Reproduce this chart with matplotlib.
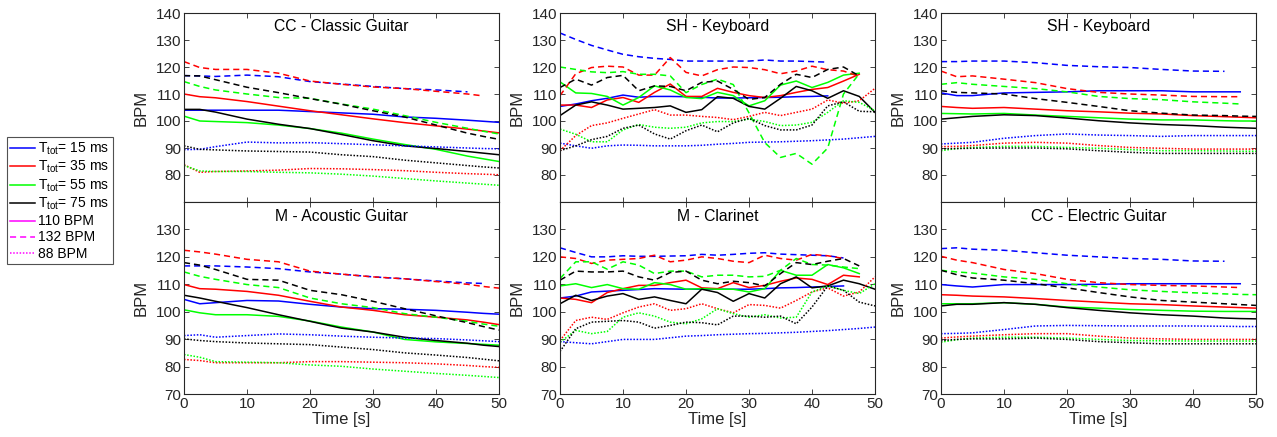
import matplotlib
matplotlib.use("Agg")
import matplotlib.pyplot as plt
from matplotlib.lines import Line2D

plt.rcParams["font.family"] = ["Liberation Sans", "DejaVu Sans"]
plt.rcParams["mathtext.fontset"] = "custom"
plt.rcParams["mathtext.rm"] = "Liberation Sans"
plt.rcParams["mathtext.it"] = "Liberation Sans:italic"

# ── time grids (s) ──────────────────────────────────────────────────────────
t_smooth = [0, 2.5, 5, 10, 15, 20, 25, 30, 35, 40, 45, 47.5, 50]
t_jagged = [0, 2.5, 5, 7.5, 10, 12.5, 15, 17.5, 20, 22.5, 25, 27.5, 30,
            32.5, 35, 37.5, 40, 42.5, 45, 47.5, 50]

# ── data: BPM per (T_tot ms, target BPM) ────────────────────────────────────
classic_guitar = {
    (15, 110): [104, 104, 104, 104, 104, 103.5, 103, 102.5, 101.5, 101, 100.3, 99.9, 99.5],
    (35, 110): [110, 109, 108.6, 107.2, 105.5, 103.8, 102.3, 100.8, 99.4, 98.2, 97, 96.3, 95.6],
    (55, 110): [101.8, 100, 99.8, 99.4, 98.5, 97.2, 95.5, 93.3, 91.3, 89.5, 87, 86, 85],
    (75, 110): [104.3, 104.3, 103.3, 100.7, 98.8, 97.2, 95, 92.7, 90.8, 89.8, 88.7, 88.1, 87.5],
    (15, 132): [116.8, 116.7, 116.5, 117, 116.4, 114.6, 113.7, 112.8, 112, 111.5, 110.8],
    (35, 132): [122, 119.8, 119.1, 119.1, 117.7, 114.8, 113.6, 112.6, 112, 111, 110, 109.3],
    (55, 132): [114.6, 112.8, 111.5, 110, 108.7, 108.4, 106.3, 104.4, 102, 99.5, 97.3, 96.2, 95.2],
    (75, 132): [116.8, 116.7, 115.3, 112.5, 110.5, 108.3, 106.2, 103.8, 101.5, 98.5, 95.5, 94.3, 93.2],
    (15, 88): [89.4, 89.5, 90.5, 92.2, 91.9, 92, 91.6, 91.2, 90.8, 90.4, 90, 89.8, 89.7],
    (35, 88): [83.8, 81, 81.3, 81.5, 81.8, 82.4, 82.3, 82, 81.6, 81, 80.5, 80.3, 80.1],
    (55, 88): [83.5, 81.5, 81.3, 81.3, 81, 80.8, 80.3, 79.6, 78.7, 77.8, 77, 76.6, 76.2],
    (75, 88): [90.8, 89.5, 89.3, 88.9, 88.7, 88.5, 87.5, 86.8, 85.5, 84.5, 83.5, 83, 82.6],
}

acoustic_guitar = {
    (15, 110): [104.5, 102.9, 103.3, 104.1, 103.9, 102.7, 101.7, 101.1, 100.9, 100.5, 99.8, 99.4, 99.1],
    (35, 110): [109.9, 108.4, 108.2, 107.4, 106, 103.8, 101.7, 100.5, 98.9, 98, 97, 96.2, 95.3],
    (55, 110): [100.7, 99.6, 98.9, 98.9, 98.3, 96.6, 94.4, 92.6, 89.9, 89, 88.4, 88.1, 87.8],
    (75, 110): [106, 105, 103.8, 101.5, 98.9, 96.5, 94, 92.6, 90.7, 89.5, 88.5, 87.8, 87.3],
    (15, 132): [116.7, 116.7, 116.7, 116.3, 115.7, 114.5, 113.7, 112.7, 112, 111.2, 110.5, 110.3],
    (35, 132): [122.4, 121.8, 121, 119.1, 118.2, 114.8, 113.7, 112.7, 112, 111, 110, 109.2, 108.6],
    (55, 132): [114.5, 112.9, 111.8, 109.9, 108.8, 105, 102.9, 101.5, 99.3, 98, 96.5, 95.5, 94.7],
    (75, 132): [117.9, 117, 115.4, 111.8, 111.5, 107.8, 106.2, 103.8, 101.1, 98.5, 96, 94.6, 93.3],
    (15, 88): [91.3, 91.6, 90.7, 91.3, 91.9, 91.6, 91.1, 90.7, 90.4, 90.2, 89.7, 89.4, 89.1],
    (35, 88): [82.6, 82.2, 81.4, 81.4, 81.4, 81.8, 81.8, 81.6, 81.4, 81, 80.4, 80, 79.7],
    (55, 88): [84.4, 83.4, 81.8, 81.6, 81.4, 80.6, 80.1, 79.1, 78.3, 77.5, 76.8, 76.4, 76],
    (75, 88): [90.1, 89.5, 89.1, 88.6, 88.3, 88, 87.1, 86.2, 85, 84.2, 83.3, 82.7, 82.1],
}

keyboard_a = {
    (15, 110): [105.4, 106.3, 107.5, 108.4, 109.6, 108.8, 109.1, 109.1, 109, 108.8, 108.5, 108.5,
                108.6, 108.7, 108.8, 109, 109.1, 109.3],
    (35, 110): [105.9, 105.9, 105, 107.8, 108.7, 106.9, 110.6, 113.7, 109.1, 109.1, 112.1, 110.6,
                109.4, 108.7, 109.4, 110.6, 111.7, 112.4, 114.8, 117.3],
    (55, 110): [114.5, 110.4, 110.2, 109.1, 105.9, 108.7, 113, 111.5, 108.7, 108.3, 110.6, 109.4,
                105.6, 107.5, 113.3, 114.8, 112.4, 114.3, 117, 117.7],
    (75, 110): [102, 105.9, 107.1, 105.9, 104.4, 104.7, 105, 105.6, 103.2, 104.2, 109, 108.4,
                105.4, 104.4, 108.4, 112.8, 111.2, 108.4, 111.2, 109.1, 103.2],
    (15, 132): [132.6, 130.2, 128, 126.3, 124.7, 123.8, 123.2, 122.8, 122.2, 122.2, 122.2, 122.2,
                122.2, 122.6, 122.2, 122.2, 122, 121.8],
    (35, 132): [109.4, 117.5, 119.8, 120.3, 120, 117, 117, 123.5, 118, 116.7, 119, 120,
                119.8, 119, 117.5, 118.5, 120.3, 119, 118.5, 116.5],
    (55, 132): [120, 119.1, 118.2, 117.9, 118.3, 117.3, 117.3, 116.7, 110.5, 113.5, 115.5, 113.5,
                103, 92, 86.5, 88, 84, 90, 110, 117.5],
    (75, 132): [112.4, 115.5, 113.3, 116.1, 116.9, 111.2, 113, 112.8, 111.2, 114.3, 114.8, 111.7,
                108, 108.7, 113.6, 117.3, 116.1, 119.1, 120, 116.7],
    (15, 88): [91.8, 90.8, 89.9, 90.8, 91.1, 91, 90.8, 90.8, 90.8, 91, 91.4, 91.7,
               92.1, 92.2, 92.3, 92.5, 92.7, 93, 93.3, 93.8, 94.3],
    (35, 88): [89, 94.6, 98.3, 99.3, 101, 102.6, 104.2, 102.2, 102.2, 101.7, 101.3, 100.5,
               101.7, 103.2, 102, 103.2, 104.4, 107.8, 106.6, 107.5, 112.1],
    (55, 88): [97, 95.1, 92.3, 92.3, 96.7, 98.7, 97.7, 97.3, 97.7, 99.3, 99.8, 99.8,
               100.7, 99.8, 98.3, 98.5, 99.5, 103.2, 107.5, 106.9, 103.8],
    (75, 88): [89, 90.8, 93.1, 94.3, 97.3, 98.5, 95.2, 93.3, 96.4, 98.5, 96, 99.3,
               101, 98.3, 96.7, 96.7, 98.5, 105.6, 107.1, 103.6, 103.4],
}

clarinet = {
    (15, 110): [105, 105.7, 107.2, 107.5, 107.8, 108.1, 108.4, 108.3, 108.2, 108.2, 108.2, 108.2,
                108.2, 108.4, 108.7, 108.8, 109, 109.2, 109.4],
    (35, 110): [105, 104.5, 103.3, 107, 108.4, 109.6, 109.6, 110.6, 111.5, 108.7, 108.4, 110.6,
                108.8, 109.6, 111.1, 112.3, 111.8, 109.9, 113.3, 112.7],
    (55, 110): [109.4, 110.2, 108.8, 109.9, 108.4, 108.2, 110.6, 109.9, 108.2, 108.4, 108.2, 108.2,
                107.2, 108.4, 115.1, 113.3, 113.3, 117.2, 116, 113.9],
    (75, 110): [102.9, 106, 104.1, 105.7, 106.6, 104.5, 105.4, 104.1, 102.9, 108.2, 107, 103.8,
                106.6, 105, 110.2, 112.7, 108.7, 109.4, 111.5, 110.2, 108.2],
    (15, 132): [123.3, 121.6, 120, 120, 120.4, 120.2, 120.2, 120.3, 120.4, 120.9, 120.6, 120.9,
                121.3, 121.5, 121, 120.8, 120.6, 120.4, 119.6],
    (35, 132): [120, 119.4, 117.6, 118.8, 119.1, 119.4, 120.6, 118.2, 118.8, 120, 119.4, 118.4,
                117.9, 120.6, 119.4, 118.8, 120.9, 120.4, 119.4],
    (55, 132): [112.1, 118.2, 118.2, 115.5, 118.2, 117, 113.9, 114.8, 114.8, 112.7, 113.3, 113.3,
                112.7, 112.9, 115.1, 119.4, 117.2, 117, 116.3, 115.7],
    (75, 132): [111.5, 114.8, 114.5, 114.5, 114.8, 112.7, 111.5, 114.3, 114.8, 111.5, 110.2, 111.1,
                110.6, 109.4, 113.9, 117.9, 117.2, 118.4, 119.4, 116.7],
    (15, 88): [89.1, 88.7, 88.3, 89.1, 89.9, 89.9, 89.9, 90.5, 91.1, 91.3, 91.6, 91.8,
               92, 92.1, 92.3, 92.5, 92.8, 93.1, 93.5, 93.9, 94.4],
    (35, 88): [89.5, 96.8, 98, 97.2, 99.6, 101.7, 102.9, 100.5, 101.1, 102.9, 101.1, 99.6,
               102.6, 102.3, 101.3, 104.1, 107.2, 108.7, 105.7, 107.2, 112.7],
    (55, 88): [88.9, 93.2, 92, 92.8, 98, 99.6, 98.4, 96.2, 95.6, 97.4, 101.1, 99.3,
               98, 98.9, 97.7, 98, 107.2, 109.4, 107.8, 106.6, 110.2],
    (75, 88): [85.5, 93.8, 96.2, 96.5, 96.8, 96.2, 94, 95, 96.2, 96, 95.2, 98.4,
               98.4, 98, 98.4, 95.6, 101.7, 109.4, 107.8, 103.5, 102.1],
}

keyboard_b = {
    (15, 110): [110.4, 109.4, 109.4, 110.4, 110.6, 110.8, 111.2, 111.2, 111.2, 110.8, 110.8, 110.8],
    (35, 110): [105.4, 105, 104.7, 105, 104.4, 103.8, 103.4, 102.9, 102.6, 102, 101.6, 101.4, 101.2],
    (55, 110): [102.8, 102.7, 102.6, 102.8, 102.2, 101.7, 101.2, 100.7, 100.4, 100.4, 100.1, 100, 100],
    (75, 110): [100.7, 101.2, 101.7, 102.3, 102, 101.1, 100.1, 99.3, 98.7, 98.3, 97.7, 97.5, 97.3],
    (15, 132): [122, 122, 122.2, 122.2, 121.6, 120.6, 120.1, 119.8, 119.1, 118.5, 118.4],
    (35, 132): [118.5, 116.4, 116.7, 115.5, 114.2, 112, 110.6, 110, 109.6, 109.1, 109, 109],
    (55, 132): [113.6, 114.2, 113.6, 112.8, 112, 110.8, 109.1, 108.3, 107.9, 107.1, 106.6, 106.3],
    (75, 132): [111.2, 110.6, 110.4, 110, 108.3, 106.9, 105.4, 103.8, 102.9, 102.2, 102, 101.8, 101.7],
    (15, 88): [91.5, 91.8, 92.1, 93.6, 94.6, 95.2, 94.8, 94.6, 94.3, 94.6, 94.6, 94.6, 94.6],
    (35, 88): [90.5, 90.6, 90.9, 91.8, 92.1, 91.8, 90.9, 90.2, 89.9, 89.6, 89.6, 89.6, 89.6],
    (55, 88): [89, 89.8, 90.2, 90.6, 90.6, 90.2, 89.9, 89.4, 89, 89, 88.9, 88.8, 88.8],
    (75, 88): [89.7, 89.8, 89.9, 90, 90, 89.7, 89, 88.4, 88, 88, 88, 88, 88],
}

electric_guitar = {
    (15, 110): [109.9, 109.4, 109, 109.9, 109.9, 109.9, 110, 110.2, 110.2, 110.2, 110.2, 110.2],
    (35, 110): [106.2, 106, 105.7, 105.4, 104.8, 104.1, 103.5, 102.9, 102.6, 102.1, 101.7, 101.5, 101.3],
    (55, 110): [102.9, 102.9, 102.9, 103.3, 102.7, 101.7, 101.3, 100.8, 100.5, 100.2, 100.1, 100.1, 100.1],
    (75, 110): [102.1, 102.7, 102.7, 103.3, 102.7, 101.5, 100.5, 99.6, 98.9, 98.4, 97.7, 97.5, 97.4],
    (15, 132): [123, 123.3, 122.8, 122.4, 121.5, 120.6, 120, 119.4, 119.1, 118.5, 118.4],
    (35, 132): [120.2, 118.8, 117.9, 115.4, 113.9, 111.8, 110.6, 109.9, 109.6, 109.4, 109, 108.8],
    (55, 132): [115.1, 114.5, 114.1, 112.7, 111.8, 110.2, 109, 108, 107.4, 106.9, 106.5, 106.3, 106.2],
    (75, 132): [115.1, 113.5, 112.3, 111.5, 110.2, 108.7, 107, 105.4, 104.1, 103.5, 102.9, 102.6, 102.3],
    (15, 88): [92, 92.1, 92.3, 93.5, 94.8, 95, 94.9, 94.8, 94.8, 94.8, 94.7, 94.6, 94.6],
    (35, 88): [90.4, 90.8, 91.1, 91.6, 92, 92, 91.1, 90.4, 90.1, 89.9, 89.9, 89.9, 89.9],
    (55, 88): [88.9, 89.8, 90.4, 90.7, 90.7, 90.4, 89.9, 89.5, 89.4, 89.3, 89.3, 89.3, 89.3],
    (75, 88): [89.5, 89.9, 90.1, 90.1, 90.4, 89.9, 89.1, 88.7, 88.3, 88.3, 88.3, 88.3, 88.3],
}

# ── styles ──────────────────────────────────────────────────────────────────
T_COLORS = {15: "#0000ff", 35: "#ff0000", 55: "#00ff00", 75: "#000000"}
BPM_STYLES = {110: "-", 132: (0, (4, 2.6)), 88: (0, (1, 1.1))}
AX_COL = "#262626"
LW = 1.1

panels = [
    # (data, grid, title, col, row)
    (classic_guitar, t_smooth, "CC - Classic Guitar", 0, 0),
    (acoustic_guitar, t_smooth, "M - Acoustic Guitar", 0, 1),
    (keyboard_a, t_jagged, "SH - Keyboard", 1, 0),
    (clarinet, t_jagged, "M - Clarinet", 1, 1),
    (keyboard_b, t_smooth, "SH - Keyboard", 2, 0),
    (electric_guitar, t_smooth, "CC - Electric Guitar", 2, 1),
]

W, H = 1277, 437
fig = plt.figure(figsize=(W / 100, H / 100), dpi=100, facecolor="white")

col_left = [184, 560, 941]
ax_w = 315
rows = [(13, 202), (202, 394)]   # top/bottom pixel y of each row

for data, grid, title, c, r in panels:
    y0, y1 = rows[r]
    ax = fig.add_axes([col_left[c] / W, (H - y1) / H, ax_w / W, (y1 - y0) / H])
    for bpm in (110, 132, 88):
        for T in (15, 35, 55, 75):
            vals = data[(T, bpm)]
            ax.plot(grid[:len(vals)], vals, color=T_COLORS[T],
                    linestyle=BPM_STYLES[bpm], lw=LW)
    ax.set_xlim(0, 50)
    ax.set_ylim(70, 140)
    ax.set_xticks([0, 10, 20, 30, 40, 50])
    if r == 0:
        ax.set_yticks([80, 90, 100, 110, 120, 130, 140])
        ax.tick_params(labelbottom=False)
    else:
        ax.set_yticks([70, 80, 90, 100, 110, 120, 130])
        ax.set_xlabel("Time [s]", fontsize=12, color=AX_COL, labelpad=1)
    ax.set_ylabel("BPM", fontsize=12, color=AX_COL, labelpad=5)
    ax.tick_params(direction="in", top=True, right=True, length=3.5,
                   width=0.6, color=AX_COL, labelsize=11, labelcolor=AX_COL, pad=2)
    for sp in ax.spines.values():
        sp.set_color(AX_COL)
        sp.set_linewidth(0.8)
    ty = 0.93 if r == 0 else 0.922
    ax.text(0.5, ty, title, transform=ax.transAxes, ha="center", va="center",
            fontsize=11.3, color="black")

# ── legend ──────────────────────────────────────────────────────────────────
handles = []
labels = []
for T in (15, 35, 55, 75):
    handles.append(Line2D([], [], color=T_COLORS[T], lw=LW))
    labels.append(r"T$_{\mathrm{tot}}$= %d ms" % T)
for bpm in (110, 132, 88):
    handles.append(Line2D([], [], color="#ff00ff", lw=LW, linestyle=BPM_STYLES[bpm]))
    labels.append("%d BPM" % bpm)

leg = fig.legend(handles, labels, loc="upper left",
                 bbox_to_anchor=(7 / W, (H - 137) / H), bbox_transform=fig.transFigure,
                 fontsize=10, frameon=True, fancybox=False, borderaxespad=0,
                 handlelength=1.8, handletextpad=0.2, labelspacing=0.15,
                 borderpad=0.25, edgecolor=AX_COL)
leg.get_frame().set_linewidth(0.8)

fig.savefig("out.png", dpi=100, facecolor="white")
